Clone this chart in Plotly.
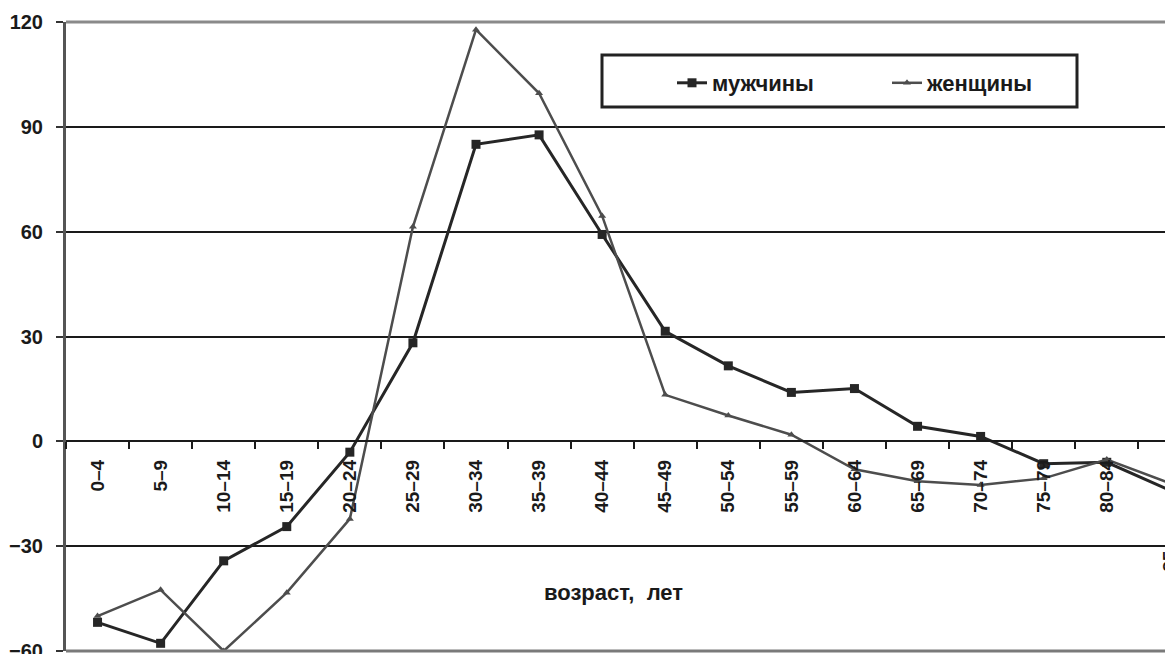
import plotly.graph_objects as go

categories = ["0–4", "5–9", "10–14", "15–19", "20–24", "25–29", "30–34", "35–39",
              "40–44", "45–49", "50–54", "55–59", "60–64", "65–69", "70–74",
              "75–79", "80–84", "85 и старше"]
men = [-51.8, -57.8, -34.2, -24.4, -3.1, 28.2, 85.0, 87.7, 59.2, 31.5, 21.6,
       14.0, 15.1, 4.3, 1.4, -6.4, -6.0, -14.0]
women = [-50.0, -42.5, -60.0, -43.3, -22.2, 61.4, 117.8, 99.6, 64.5, 13.3, 7.4,
         1.9, -8.0, -11.4, -12.5, -10.6, -5.2, -12.0]
y_ticks = [-60, -30, 0, 30, 60, 90, 120]
series_names = ["мужчины", "женщины"]
x_title = "возраст,&nbsp; лет"

FONT = "Arial, 'Liberation Sans', sans-serif"

fig = go.Figure()
fig.add_trace(go.Scatter(
    x=categories, y=men, name=series_names[0], mode="lines+markers",
    line=dict(color="#262626", width=3),
    marker=dict(symbol="square", size=9, color="#262626"),
))
fig.add_trace(go.Scatter(
    x=categories, y=women, name=series_names[1], mode="lines+markers",
    line=dict(color="#4d4d4d", width=2.5),
    marker=dict(symbol="triangle-up", size=7, color="#4d4d4d"),
))

# page offset of the default body margin (8px) is compensated here
OFF = 8
W, H = 1173 - OFF, 654 - OFF
L, R, T, B = 66 - OFF, 0, 22 - OFF, 3
pw, ph = W - L - R, H - T - B


def px(xpix):
    return (xpix - OFF - L) / pw


def py(ypix):
    return (H - B - (ypix - OFF)) / ph


fig.update_layout(
    width=W, height=H,
    margin=dict(l=L, r=R, t=T, b=B, pad=0),
    paper_bgcolor="white", plot_bgcolor="white",
    font=dict(family=FONT, color="#1a1a1a"),
    showlegend=True,
    legend=dict(
        orientation="h", x=px(672), y=py(83), xanchor="left", yanchor="middle",
        entrywidth=170, entrywidthmode="pixels",
        font=dict(size=22, weight="bold", color="#1a1a1a"),
        bgcolor="rgba(0,0,0,0)", borderwidth=0,
    ),
    xaxis=dict(
        type="category", range=[-0.5, 17.05],
        anchor="free", position=1/3,
        showline=True, linecolor="#1a1a1a", linewidth=2,
        ticks="outside", tickson="boundaries", ticklen=7, tickwidth=2,
        tickcolor="#1a1a1a", tickangle=-90, ticklabelstandoff=10,
        ticklabeloverflow="allow",
        tickfont=dict(size=19, weight="bold", color="#1a1a1a"),
        showgrid=False, zeroline=False, automargin=False,
    ),
    yaxis=dict(
        range=[-60, 120], tickvals=y_ticks, domain=[0, 1],
        showline=True, linecolor="#555555", linewidth=3,
        ticks="outside", ticklen=7, tickwidth=2, tickcolor="#333333",
        ticklabelstandoff=9, ticklabeloverflow="allow",
        tickfont=dict(size=20, weight="bold", color="#1a1a1a"),
        showgrid=True, gridcolor="#1a1a1a", gridwidth=2,
        zeroline=False, automargin=False,
    ),
    shapes=[
        dict(type="line", xref="paper", yref="paper", x0=0, x1=1, y0=1, y1=1,
             line=dict(color="#8a8a8a", width=3), layer="above"),
        dict(type="line", xref="paper", yref="paper", x0=0, x1=1, y0=0, y1=0,
             line=dict(color="#7a7a7a", width=3), layer="above"),
        dict(type="rect", xref="paper", yref="paper",
             x0=px(602), x1=px(1077), y0=py(107), y1=py(55),
             line=dict(color="#222222", width=3), fillcolor="white", layer="below"),
    ],
    annotations=[
        dict(text=x_title, xref="paper", yref="paper", x=px(613), y=py(592),
             showarrow=False, xanchor="center", yanchor="middle",
             font=dict(size=22, weight="bold", color="#1a1a1a")),
    ],
)

fig.write_html("out.html")
